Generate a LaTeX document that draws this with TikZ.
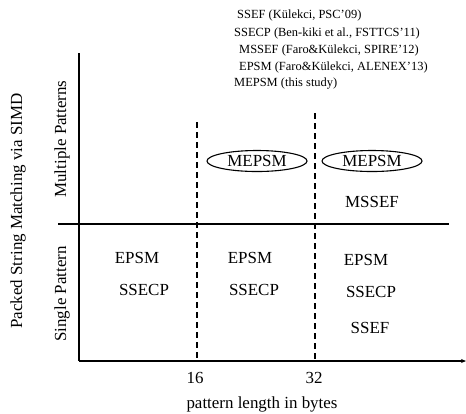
\documentclass[tikz,border=0pt]{standalone}
\usepackage{fontspec}
\setmainfont{Liberation Serif}
\usetikzlibrary{arrows.meta,shapes.geometric}
\begin{document}
\begin{tikzpicture}[x=1bp,y=-1bp,
  lbl/.style={font=\fontsize{17}{20}\selectfont, inner sep=0pt},
  leg/.style={font=\fontsize{12.5}{15}\selectfont, inner sep=0pt, anchor=west},
  axis/.style={line width=1.3bp},
  divider/.style={line width=1.2bp, dash pattern=on 6bp off 4bp},
  oval/.style={draw, ellipse, line width=1.1bp, minimum width=100bp, minimum height=21bp, inner sep=0pt, font=\fontsize{17}{20}\selectfont}]
\useasboundingbox (0,0) rectangle (466,413);
% legend
\node[leg] (l1) at (237,15) {SSEF (Külekci, PSC’09)};
\node[leg] (l2) at (234,33) {SSECP (Ben-kiki et al., FSTTCS’11)};
\node[leg] (l3) at (239,50) {MSSEF (Faro\&Külekci, SPIRE’12)};
\node[leg] (l4) at (239,67) {EPSM (Faro\&Külekci, ALENEX’13)};
\node[leg] (l5) at (234,84) {MEPSM (this study)};
% axes
\coordinate (ytop) at (79,53);
\coordinate (origin) at (79,361);
\coordinate (xend) at (466,361);
\coordinate (hl) at (58,224);
\coordinate (hr) at (449,224);
\coordinate (d1t) at (197,122);
\coordinate (d1b) at (197,361);
\coordinate (d2t) at (315,113);
\coordinate (d2b) at (315,361);
\draw[axis] (ytop) -- (origin);
\draw[axis, -{Stealth[length=5bp,width=4bp]}] (origin) -- (xend);
\draw[axis] (hl) -- (hr);
\draw[divider] (d1t) -- (d1b);
\draw[divider] (d2t) -- (d2b);
% axis labels
\node[lbl, rotate=90] (ylab) at (18,211) {Packed String Matching via SIMD};
\node[lbl, rotate=90] (mp) at (62,139) {Multiple Patterns};
\node[lbl, rotate=90] (sp) at (62,294) {Single Pattern};
\node[lbl] (t16) at (195,378) {16};
\node[lbl] (t32) at (314,378) {32};
\node[lbl] (xlab) at (262,404) {pattern length in bytes};
% cells
\node[oval] (m1) at (257,161) {MEPSM};
\node[oval] (m2) at (372,161) {MEPSM};
\node[lbl] (ms3) at (372,202) {MSSEF};
\node[lbl] (e1) at (137,258) {EPSM};
\node[lbl] (s1) at (144,290) {SSECP};
\node[lbl] (e2) at (250,258) {EPSM};
\node[lbl] (s2) at (254,290) {SSECP};
\node[lbl] (e3) at (366,260) {EPSM};
\node[lbl] (s3) at (371,292) {SSECP};
\node[lbl] (f3) at (370,328) {SSEF};
\end{tikzpicture}
\end{document}
